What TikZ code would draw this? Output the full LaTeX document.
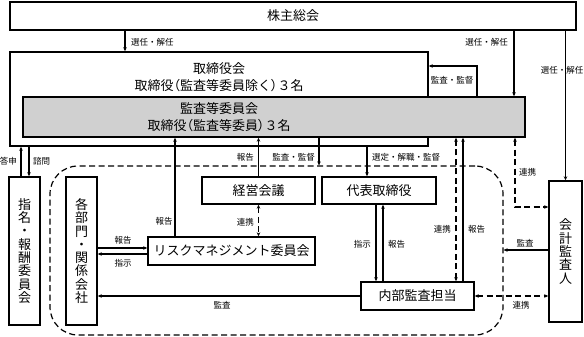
\documentclass[tikz,border=0pt]{standalone}
\usepackage{fontspec}
\setmainfont{Noto Sans CJK JP}
\newfontfamily\jpprop{Noto Sans CJK JP}[RawFeature=+palt]
\usetikzlibrary{positioning,arrows.meta}
\definecolor{PanelGray}{RGB}{208,208,208}

\begin{document}
\begin{tikzpicture}[
        x=1pt, y=-1pt,
        font=\fontsize{13}{16.5}\selectfont,
        box/.style={draw, line width=1.4pt, inner sep=0pt, align=center},
        vbox/.style={box, font=\fontsize{13}{13.3}\selectfont, minimum width=31pt},
        lbl/.style={font=\fontsize{8.5}{9}\selectfont, inner sep=1pt},
        group/.style={draw, line width=1.2pt, dash pattern=on 6pt off 3.5pt, rounded corners=28pt},
        conn/.style={line width=1.2pt, -{Stealth[length=4pt,width=3.5pt]}},
        link/.style={line width=1.2pt, dash pattern=on 6pt off 3.5pt, {Stealth[length=4pt,width=3.5pt]}-{Stealth[length=4pt,width=3.5pt]}}
    ]
        \useasboundingbox (0,0) rectangle (584,337);
        % dashed group
        \node[group, minimum width=453pt, minimum height=169pt] (grp) at (276.5,250.5) {};
        % boxes
        \node[box, minimum width=566pt, minimum height=28pt] (share) at (293,16) {株主総会};
        \node[box, minimum width=418pt, minimum height=94pt] (board) at (219,99) {};
        \node[align=center] (boardtxt) at (219,77) {取締役会\\取締役{\jpprop （}監査等委員除く{\jpprop ）}３名};
        \node[box, fill=PanelGray, minimum width=502pt, minimum height=40pt] (audit) at (274,117) {};
        \node[align=center] (audittxt) at (219,117) {監査等委員会\\取締役{\jpprop （}監査等委員{\jpprop ）}３名};
        \node[vbox, minimum height=148pt] (nomi) at (24.5,251) {指\\名\\・\\報\\酬\\委\\員\\会};
        \node[vbox, minimum height=148pt] (dept) at (81.5,251) {各\\部\\門\\・\\関\\係\\会\\社};
        \node[box, minimum width=113pt, minimum height=27pt] (mgmt) at (258.5,190.5) {経営会議};
        \node[box, minimum width=114pt, minimum height=27pt] (ceo) at (379,190.5) {代表取締役};
        \node[box, minimum width=167pt, minimum height=28pt] (risk) at (231.5,251) {リスクマネジメント委員会};
        \node[box, minimum width=113pt, minimum height=28pt] (intaud) at (417.5,296) {内部監査担当};
        \node[vbox, minimum width=33pt, minimum height=141pt] (acct) at (565.5,251.5) {会\\計\\監\\査\\人};

        % shareholders
        \draw[conn] (share.south -| 125,0) -- (board.north -| 125,0);
        \node[lbl, anchor=west] at (130,42) {選任・解任};
        \draw[conn] (share.south -| 514,0) -- (audit.north -| 514,0);
        \node[lbl, anchor=east] at (509,42) {選任・解任};
        \draw[conn] (share.south -| acct.north) -- (acct.north);
        \node[lbl] at (562,70) {選任・解任};
        \draw[conn] (audit.north -| 477,0) |- (board.east |- 0,66);
        \node[lbl] at (452,80) {監査・監督};

        % nomination committee
        \draw[conn] (nomi.north -| 21,0) -- (board.south -| 21,0);
        \draw[conn] (board.south -| 29,0) -- (nomi.north -| 29,0);
        \node[lbl, anchor=east] at (18,161) {答申};
        \node[lbl, anchor=west] at (32,161) {諮問};

        % audit committee and the group
        \draw[conn] (risk.north -| 175,0) -- (audit.south -| 175,0);
        \node[lbl] at (164,221) {報告};
        \draw[conn] (mgmt.north) -- (audit.south -| mgmt.north);
        \node[lbl, anchor=east] at (255,157) {報告};
        \draw[conn] (audit.south -| 319,0) -- (grp.north -| 319,0);
        \node[lbl, anchor=east] at (316,157) {監査・監督};
        \draw[conn] (board.south -| 367,0) -- (ceo.north -| 367,0);
        \node[lbl, anchor=west] at (371,157) {選定・解職・監督};
        \draw[link] (mgmt.south) -- (risk.north -| mgmt.south);
        \node[lbl, anchor=east] at (255,222) {連携};

        % departments
        \draw[conn] (dept.east |- 0,248) -- (risk.west |- 0,248);
        \node[lbl] at (123,240) {報告};
        \draw[conn] (risk.west |- 0,254) -- (dept.east |- 0,254);
        \node[lbl] at (123,263) {指示};
        \draw[conn] (intaud.west) -- (dept.east |- intaud.west);
        \node[lbl] at (222,305) {監査};

        % internal audit
        \draw[conn] (ceo.south -| 376,0) -- (intaud.north -| 376,0);
        \node[lbl, anchor=east] at (372,244) {指示};
        \draw[conn] (intaud.north -| 383,0) -- (ceo.south -| 383,0);
        \node[lbl, anchor=west] at (387,244) {報告};
        \draw[link] (intaud.north -| 456,0) -- (audit.south -| 456,0);
        \node[lbl, anchor=east] at (452,229) {連携};
        \draw[conn] (intaud.north -| 463,0) -- (audit.south -| 463,0);
        \node[lbl, anchor=west] at (467,229) {報告};

        % accounting auditor
        \draw[link] (audit.south -| 515,0) |- (acct.west |- 0,207);
        \node[lbl, anchor=west] at (518,172) {連携};
        \draw[conn] (acct.west |- 0,250) -- (grp.east |- 0,250);
        \node[lbl] at (525,243) {監査};
        \draw[link] (intaud.east) -- (acct.west |- intaud.east);
        \node[lbl] at (521,305) {連携};
    \end{tikzpicture}
\end{document}
